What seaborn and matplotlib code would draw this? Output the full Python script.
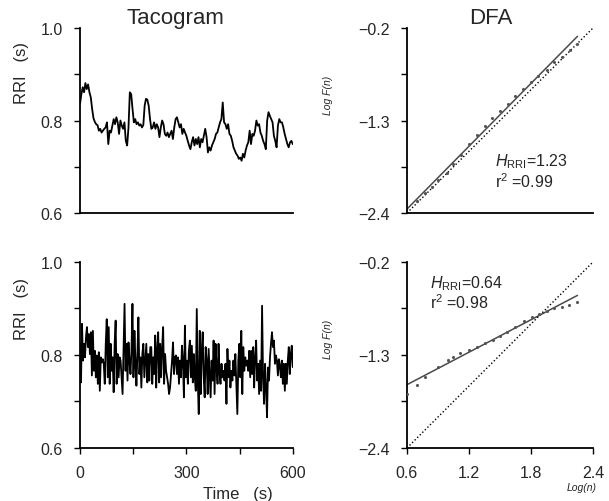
import numpy as np
import pandas as pd
import matplotlib.pyplot as plt
import seaborn as sns
from matplotlib.ticker import FixedLocator

# RR intervals (s), top = correlated series, bottom = noisy series
rri_top = [
    0.836, 0.857, 0.872, 0.861, 0.881, 0.868, 0.878, 0.861, 0.850, 0.825,
    0.805, 0.797, 0.792, 0.790, 0.778, 0.782, 0.774, 0.778, 0.782, 0.785,
    0.796, 0.749, 0.778, 0.774, 0.789, 0.803, 0.792, 0.807, 0.796, 0.771,
    0.800, 0.789, 0.782, 0.796, 0.756, 0.746, 0.785, 0.861, 0.857, 0.825,
    0.796, 0.803, 0.792, 0.796, 0.789, 0.792, 0.785, 0.790, 0.832, 0.847,
    0.845,
    0.832, 0.803, 0.782, 0.785, 0.796, 0.782, 0.792, 0.785, 0.764, 0.785,
    0.800, 0.792, 0.771, 0.767, 0.774, 0.764, 0.771, 0.778, 0.760, 0.785,
    0.803, 0.807, 0.796, 0.785, 0.792, 0.771, 0.782, 0.774, 0.767, 0.756,
    0.746, 0.738, 0.753, 0.764, 0.746, 0.760, 0.749, 0.764, 0.742, 0.760,
    0.753, 0.767, 0.782, 0.764, 0.731, 0.742, 0.735, 0.746, 0.753, 0.760,
    0.771,
    0.774, 0.785, 0.796, 0.803, 0.839, 0.796, 0.792, 0.782, 0.792, 0.771,
    0.767, 0.756, 0.742, 0.735, 0.728, 0.724, 0.717, 0.720, 0.713, 0.728,
    0.720, 0.735, 0.746, 0.753, 0.778, 0.749, 0.771, 0.767, 0.778, 0.800,
    0.789, 0.792, 0.774, 0.767, 0.756, 0.749, 0.738, 0.800, 0.818, 0.810,
    0.803, 0.796, 0.767, 0.756, 0.742, 0.789, 0.803, 0.796, 0.796, 0.785,
    0.771, 0.760, 0.749, 0.742, 0.753, 0.756, 0.749,
]

rri_bottom = [
    0.824, 0.741, 0.867, 0.788, 0.824, 0.795, 0.838, 0.860, 0.817, 0.845,
    0.802, 0.849, 0.756, 0.852, 0.766, 0.809, 0.752, 0.799, 0.738, 0.806,
    0.723, 0.795, 0.784, 0.791, 0.781, 0.738, 0.824, 0.877, 0.752, 0.860,
    0.738, 0.824, 0.766, 0.795, 0.720, 0.824, 0.874, 0.738, 0.802, 0.752,
    0.795, 0.788, 0.752, 0.716, 0.817, 0.910, 0.766, 0.824, 0.745, 0.827,
    0.788, 0.759, 0.809, 0.910, 0.752, 0.852, 0.788, 0.734, 0.802, 0.881,
    0.759, 0.795, 0.730, 0.802, 0.824, 0.752, 0.788, 0.824, 0.741, 0.802,
    0.745, 0.817,
    0.817, 0.738, 0.795, 0.759, 0.842, 0.730, 0.813, 0.849, 0.741, 0.824,
    0.752, 0.817, 0.860, 0.738, 0.802, 0.766, 0.752, 0.738, 0.716, 0.730,
    0.759, 0.788, 0.827, 0.759, 0.795, 0.799, 0.759, 0.795, 0.738, 0.788,
    0.752, 0.820, 0.788, 0.709, 0.863, 0.752, 0.788, 0.738, 0.809, 0.831,
    0.752, 0.820, 0.741, 0.802, 0.752, 0.723, 0.899, 0.745, 0.673, 0.852,
    0.716, 0.809, 0.849, 0.752, 0.709, 0.817, 0.788, 0.716, 0.813, 0.759,
    0.709, 0.788, 0.745, 0.831, 0.716, 0.824, 0.773, 0.738, 0.824, 0.759,
    0.738,
    0.781, 0.752, 0.766, 0.745, 0.781, 0.695, 0.813, 0.752, 0.788, 0.730,
    0.766, 0.745, 0.788, 0.756, 0.802, 0.738, 0.673, 0.788, 0.824, 0.752,
    0.852, 0.716, 0.817, 0.766, 0.795, 0.777, 0.788, 0.766, 0.809, 0.752,
    0.809, 0.759, 0.817, 0.730, 0.795, 0.831, 0.745, 0.781, 0.716, 0.788,
    0.723, 0.906, 0.752, 0.695, 0.781, 0.730, 0.666, 0.773, 0.745, 0.795,
    0.824, 0.849, 0.817, 0.831, 0.781, 0.799, 0.788, 0.756, 0.791, 0.777,
    0.752, 0.788, 0.738, 0.781, 0.723, 0.781, 0.738, 0.788, 0.817, 0.759,
    0.802, 0.820, 0.774,
]

# DFA: log(n) vs log F(n)
logn_top = [0.693, 0.774, 0.839, 0.903, 0.984, 1.048, 1.123, 1.200, 1.274, 1.355, 1.426,
            1.500, 1.574, 1.645, 1.726, 1.800, 1.871, 1.952, 2.026, 2.097, 2.177, 2.242]
logf_top = [-2.257, -2.158, -2.091, -2.012, -1.924, -1.813, -1.714, -1.583, -1.476, -1.369, -1.270,
            -1.187, -1.100, -1.013, -0.925, -0.842, -0.767, -0.695, -0.608, -0.545, -0.465, -0.386]
logn_bot = [0.600, 0.694, 0.774, 0.897, 1.000, 1.042, 1.113, 1.203, 1.274, 1.355, 1.429,
            1.500, 1.571, 1.645, 1.732, 1.807, 1.880, 1.952, 2.023, 2.097, 2.171, 2.242]
logf_bot = [-1.761, -1.651, -1.556, -1.438, -1.359, -1.328, -1.280, -1.237, -1.202, -1.158, -1.119,
            -1.072, -1.024, -0.973, -0.902, -0.854, -0.815, -0.776, -0.748, -0.736, -0.709, -0.677]

fit_top = (1.245, -3.10)   # slope, intercept
fit_bot = (0.64, -2.035)
fit_range = [0.6, 2.25]
ref_x = [0.6, 2.4]
ref_y = [-2.4, -0.2]

labels_top = (r"$H_{\mathrm{RRI}}$=1.23", r"r$^{2}$ =0.99")
labels_bot = (r"$H_{\mathrm{RRI}}$=0.64", r"r$^{2}$ =0.98")

sns.set_theme(style="ticks")
plt.rcParams["font.family"] = ["Liberation Sans", "DejaVu Sans"]
plt.rcParams["mathtext.fontset"] = "custom"
plt.rcParams["mathtext.rm"] = "Liberation Sans"
plt.rcParams["mathtext.it"] = "Liberation Sans:italic"

fig = plt.figure(figsize=(6.09, 5.02), dpi=100)
ax_tl = fig.add_axes([0.1314, 0.5737, 0.3493, 0.3685])
ax_bl = fig.add_axes([0.1314, 0.1056, 0.3493, 0.3705])
ax_tr = fig.add_axes([0.6683, 0.5737, 0.3054, 0.3685])
ax_br = fig.add_axes([0.6683, 0.1056, 0.3054, 0.3705])

for vals, ax in [(rri_top, ax_tl), (rri_bottom, ax_bl)]:
    df = pd.DataFrame({"t": np.linspace(0, 600, len(vals)), "rri": vals})
    sns.lineplot(data=df, x="t", y="rri", ax=ax, color="black", linewidth=1.3)
    ax.set_xlim(0, 600)
    ax.set_ylim(0.6, 1.0)
    ax.yaxis.set_major_locator(FixedLocator([0.6, 0.8, 1.0]))
    ax.yaxis.set_minor_locator(FixedLocator([0.7, 0.9]))
    ax.set_yticklabels(["0.6", "0.8", "1.0"])
    ax.set_ylabel("RRI   (s)", fontsize=12)
    ax.yaxis.label.set_rotation_mode("anchor")
    ax.yaxis.label.set_va("center")
    ax.set_xlabel("")

for (lx, ly, fit), ax in [((logn_top, logf_top, fit_top), ax_tr),
                          ((logn_bot, logf_bot, fit_bot), ax_br)]:
    pts = pd.DataFrame({"logn": lx, "logf": ly})
    fx = np.array(fit_range)
    sns.lineplot(x=fx, y=fit[0] * fx + fit[1], ax=ax, color="#4a4a4a", linewidth=1.1)
    sns.lineplot(x=ref_x, y=ref_y, ax=ax, color="black", linewidth=1.0,
                 linestyle=(0, (1, 1.6)))
    sns.scatterplot(data=pts, x="logn", y="logf", ax=ax, color="#555555", s=5,
                    linewidth=0, zorder=3)
    ax.set_xlim(0.6, 2.4)
    ax.set_ylim(-2.4, -0.2)
    ax.yaxis.set_major_locator(FixedLocator([-2.4, -1.3, -0.2]))
    ax.yaxis.set_minor_locator(FixedLocator([-1.85, -0.75]))
    ax.set_yticklabels(["\u22122.4", "\u22121.3", "\u22120.2"])
    ax.set_ylabel("Log F(n)", fontsize=7.5, style="italic")
    ax.yaxis.label.set_rotation_mode("anchor")
    ax.yaxis.label.set_va("center")
    ax.set_xlabel("")

ax_tl.yaxis.set_label_coords(-0.277, 0.76)
ax_bl.yaxis.set_label_coords(-0.277, 0.75)
ax_tr.yaxis.set_label_coords(-0.425, 0.64)
ax_br.yaxis.set_label_coords(-0.425, 0.59)

# text annotations
ax_tr.text(0.473, 0.258, labels_top[0], transform=ax_tr.transAxes, fontsize=11.5)
ax_tr.text(0.473, 0.140, labels_top[1], transform=ax_tr.transAxes, fontsize=11.5)
ax_br.text(0.124, 0.862, labels_bot[0], transform=ax_br.transAxes, fontsize=11.5)
ax_br.text(0.124, 0.752, labels_bot[1], transform=ax_br.transAxes, fontsize=11.5)

# x axes
ax_bl.xaxis.set_major_locator(FixedLocator([0, 300, 600]))
ax_bl.xaxis.set_minor_locator(FixedLocator([150, 450]))
ax_bl.set_xticklabels(["0", "300", "600"])
ax_bl.set_xlabel("Time   (s)", fontsize=12)
ax_bl.xaxis.set_label_coords(0.743, -0.205)

ax_br.xaxis.set_major_locator(FixedLocator([0.6, 1.2, 1.8, 2.4]))
ax_br.set_xticklabels(["0.6", "1.2", "1.8", "2.4"])
ax_br.set_xlabel("Log(n)", fontsize=7.5, style="italic")
ax_br.xaxis.set_label_coords(0.94, -0.185)

for ax in [ax_tl, ax_bl, ax_tr, ax_br]:
    sns.despine(ax=ax)
    for side in ["left", "bottom"]:
        ax.spines[side].set_linewidth(1.3)
        ax.spines[side].set_color("black")
    ax.tick_params(which="both", direction="out", length=4.3, width=1.0,
                   color="black", labelsize=11.5, pad=8)
    ax.grid(False)

for ax in [ax_tl, ax_tr]:
    ax.tick_params(axis="x", which="both", length=0, labelbottom=False)

ax_tl.set_title("Tacogram", fontsize=16, x=0.45, pad=3)
ax_tr.set_title("DFA", fontsize=16, x=0.45, pad=3)

fig.savefig("out.png", dpi=100)
